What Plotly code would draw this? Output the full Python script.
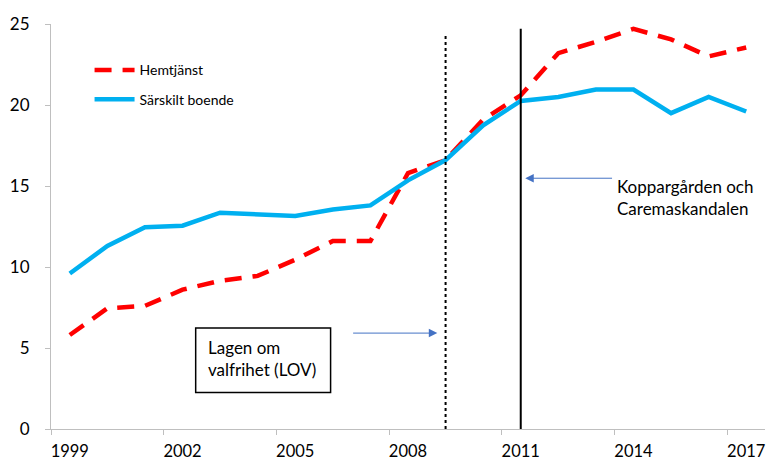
import plotly.graph_objects as go

years = list(range(1999, 2018))
hemtjanst = [5.8, 7.45, 7.6, 8.6, 9.15, 9.45, 10.45, 11.6, 11.6, 15.8, 16.6, 19.1, 20.6,
             23.2, 23.9, 24.7, 24.05, 23.0, 23.55]
sarskilt = [9.6, 11.3, 12.45, 12.55, 13.35, 13.25, 13.15, 13.55, 13.8, 15.35, 16.6, 18.75, 20.25,
            20.5, 20.95, 20.95, 19.5, 20.5, 19.6]
tick_years = [1999, 2002, 2005, 2008, 2011, 2014, 2017]
tick_bounds = [1998.5, 2001.5, 2004.5, 2007.5, 2010.5, 2013.5, 2016.5]
lov_year = 2009
skandal_year = 2011

FONT = "Lato"

fig = go.Figure()
fig.add_trace(go.Scatter(x=years, y=hemtjanst, mode="lines", name="Hemtjänst",
                         legendgroup="a",
                         line=dict(color="#FF0000", width=4.5, dash="17px,11px")))
fig.add_trace(go.Scatter(x=years, y=sarskilt, mode="lines", name="Särskilt boende",
                         legendgroup="b",
                         line=dict(color="#00B0F0", width=4.5)))

# vertical reference lines
fig.add_shape(type="line", xref="x", yref="y", x0=lov_year, x1=lov_year, y0=0, y1=24.45,
              line=dict(color="black", width=2, dash="dot"))
fig.add_shape(type="line", xref="x", yref="y", x0=skandal_year, x1=skandal_year, y0=-0.05, y1=24.7,
              line=dict(color="black", width=2))

# LOV box
fig.add_shape(type="rect", xref="x", yref="y", x0=2002.35, x1=2005.94, y0=2.26, y1=6.23,
              line=dict(color="black", width=1.5), fillcolor="white")
fig.add_annotation(x=2002.62, y=4.35, xref="x", yref="y", xanchor="left", yanchor="middle",
                   align="left", showarrow=False,
                   text="Lagen om<br>valfrihet (LOV)",
                   font=dict(family=FONT, size=17, color="black"))
# arrows
fig.add_annotation(x=2008.78, y=5.92, ax=2006.5, ay=5.92, xref="x", yref="y", axref="x", ayref="y",
                   text="", showarrow=True, arrowhead=2, arrowsize=1.7, arrowwidth=1,
                   arrowcolor="#4472C4")
fig.add_annotation(x=2011.12, y=15.48, ax=2013.47, ay=15.48, xref="x", yref="y", axref="x", ayref="y",
                   text="", showarrow=True, arrowhead=2, arrowsize=1.7, arrowwidth=1,
                   arrowcolor="#4472C4")
fig.add_annotation(x=2013.5, y=14.3, xref="x", yref="y", xanchor="left", yanchor="middle",
                   align="left", showarrow=False,
                   text="Koppargården och<br>Caremaskandalen",
                   font=dict(family=FONT, size=17, color="black"))

fig.update_layout(
    width=767, height=461,
    margin=dict(l=51, r=2, t=24, b=32, autoexpand=False),
    paper_bgcolor="white", plot_bgcolor="white",
    font=dict(family=FONT, size=16, color="black"),
    showlegend=True,
    legend=dict(x=0.054, y=0.925, xanchor="left", yanchor="top", bgcolor="rgba(0,0,0,0)",
                font=dict(family=FONT, size=14), traceorder="grouped", tracegroupgap=8,
                itemwidth=40),
)
fig.update_xaxes(range=[1998.5, 2017.5], tickmode="array", tickvals=tick_years,
                 ticktext=[str(y) for y in tick_years], ticks="", showgrid=False,
                 showline=True, linecolor="#BFBFBF", linewidth=1, zeroline=False,
                 automargin=False, ticklabelstandoff=7,
                 tickfont=dict(family=FONT, size=16.5),
                 minor=dict(tickmode="array", tickvals=tick_bounds, ticks="outside", ticklen=5,
                            tickcolor="#BFBFBF", tickwidth=1, showgrid=False))
fig.update_yaxes(range=[0, 25], tickmode="array", tickvals=[0, 5, 10, 15, 20, 25],
                 ticks="outside", ticklen=5, tickcolor="#BFBFBF", showgrid=False,
                 showline=True, linecolor="#BFBFBF", linewidth=1, zeroline=False,
                 automargin=False,
                 tickfont=dict(family=FONT, size=17), ticklabelstandoff=12)

fig.write_html("out.html", config={"displayModeBar": False},
               post_script="document.body.style.margin='0';document.body.style.overflow='hidden';")
